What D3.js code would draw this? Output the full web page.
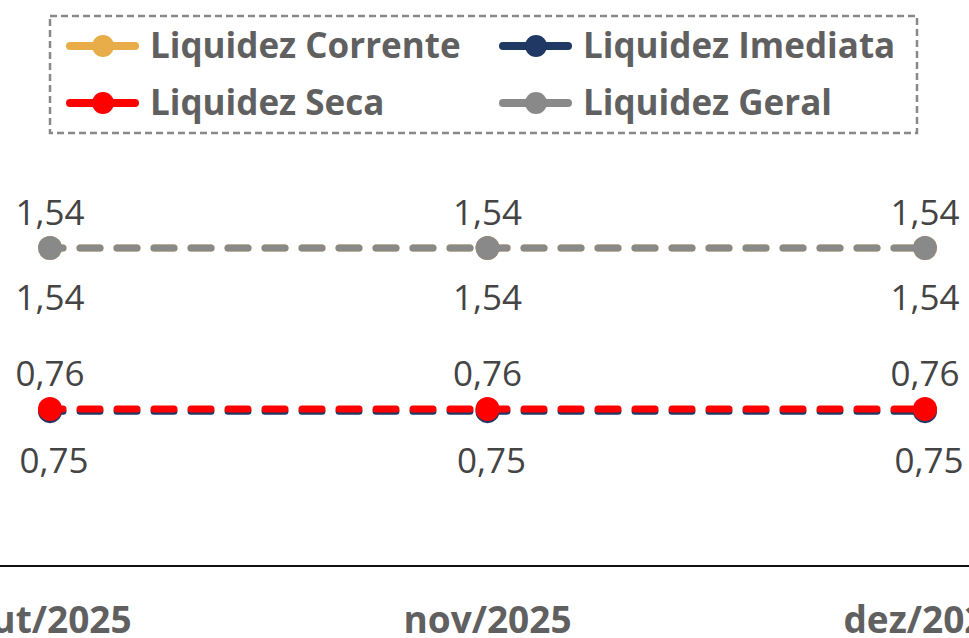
<!DOCTYPE html>
<html>
<head>
<meta charset="utf-8">
<script src="https://cdn.jsdelivr.net/npm/d3@7"></script>
<style>
  body { margin: 0; background: #fff; }
  svg { display: block; font-family: "Open Sans", sans-serif; }
</style>
</head>
<body>
<svg width="969" height="638"></svg>
<script>
// dados
var categorias = ["out/2025", "nov/2025", "dez/2025"];
var liqCorrente = [1.54, 1.54, 1.54];
var liqImediata = [0.75, 0.75, 0.75];
var liqSeca = [0.76, 0.76, 0.76];
var liqGeral = [1.54, 1.54, 1.54];

var series = [
  { nome: "Liquidez Corrente", valores: liqCorrente, cor: "#E8AD48", rotulo: "acima" },
  { nome: "Liquidez Imediata", valores: liqImediata, cor: "#203864", rotulo: "abaixo" },
  { nome: "Liquidez Seca", valores: liqSeca, cor: "#FF0000", rotulo: "acima" },
  { nome: "Liquidez Geral", valores: liqGeral, cor: "#898989", rotulo: "abaixo" }
];

var svg = d3.select("svg"),
    width = +svg.attr("width"),
    height = +svg.attr("height");

var x = d3.scalePoint()
    .domain(categorias)
    .range([50, 925]);

var y = d3.scaleLinear()
    .domain([0, 1.54])
    .range([566, 248]);

var fmt = function (v) { return d3.format(".2f")(v).replace(".", ","); };

// eixo x
svg.append("line")
    .attr("x1", 0).attr("x2", width)
    .attr("y1", y(0)).attr("y2", y(0))
    .attr("stroke", "#111")
    .attr("stroke-width", 2);

svg.append("g")
    .selectAll("text")
    .data(categorias)
    .enter().append("text")
    .attr("x", function (d) { return x(d); })
    .attr("y", 633)
    .attr("text-anchor", "middle")
    .attr("font-size", "37px")
    .attr("font-weight", "bold")
    .attr("fill", "#606060")
    .text(function (d) { return d; });

// linhas e pontos
var line = d3.line()
    .x(function (d, i) { return x(categorias[i]); })
    .y(function (d) { return y(d); });

var g = svg.append("g");

series.forEach(function (s) {
  g.append("path")
      .datum(s.valores)
      .attr("d", line)
      .attr("fill", "none")
      .attr("stroke", s.cor)
      .attr("stroke-width", 7)
      .attr("stroke-linecap", "round")
      .attr("stroke-dasharray", "20,17")
      .attr("stroke-dashoffset", -30);

  g.selectAll(null)
      .data(s.valores)
      .enter().append("circle")
      .attr("cx", function (d, i) { return x(categorias[i]); })
      .attr("cy", function (d) { return y(d); })
      .attr("r", 12)
      .attr("fill", s.cor);
});

// rótulos de dados
series.forEach(function (s) {
  svg.append("g")
      .selectAll("text")
      .data(s.valores)
      .enter().append("text")
      .attr("x", function (d, i) { return x(categorias[i]) + (s.rotulo == "abaixo" && s.valores[0] < 1 ? 4 : 0); })
      .attr("y", function (d) { return s.rotulo == "acima" ? y(d) - 23 : y(d) + 62; })
      .attr("text-anchor", "middle")
      .attr("font-size", "35px")
      .attr("fill", "#444")
      .text(function (d) { return fmt(d); });
});

// legenda
svg.append("rect")
    .attr("x", 50).attr("y", 16)
    .attr("width", 867).attr("height", 117)
    .attr("fill", "none")
    .attr("stroke", "#888")
    .attr("stroke-width", 2.5)
    .attr("stroke-dasharray", "7,4");

var legenda = svg.append("g")
    .selectAll("g")
    .data(series)
    .enter().append("g")
    .attr("transform", function (d, i) {
      var col = i % 2 ? 433 : 0;
      var row = i > 1 ? 57 : 0;
      return "translate(" + (70 + col) + "," + (46 + row) + ")";
    });

legenda.append("line")
    .attr("x1", 0).attr("x2", 65)
    .attr("stroke", function (d) { return d.cor; })
    .attr("stroke-width", 8)
    .attr("stroke-linecap", "round");

legenda.append("circle")
    .attr("cx", 33)
    .attr("r", 11)
    .attr("fill", function (d) { return d.cor; });

legenda.append("text")
    .attr("x", 80)
    .attr("dy", "0.35em")
    .attr("font-size", "35px")
    .attr("font-weight", "bold")
    .attr("fill", "#606060")
    .text(function (d) { return d.nome; });
</script>
</body>
</html>
